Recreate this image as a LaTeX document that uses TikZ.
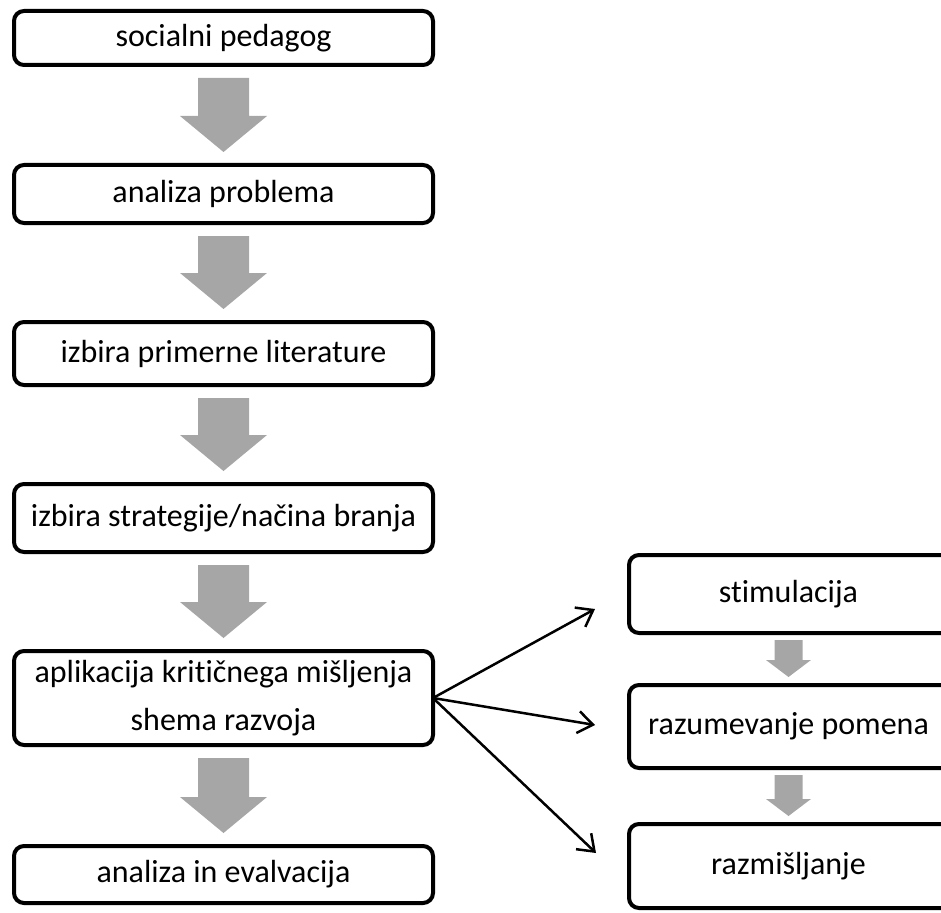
\documentclass[tikz,border=0pt]{standalone}
\usepackage{fontspec}
\setmainfont{Carlito}[Ligatures=NoCommon, RawFeature={-liga,-clig,-calt,-dlig}]
\usetikzlibrary{arrows.meta}
\usetikzlibrary{calc}
\definecolor{arrowgray}{HTML}{A6A6A6}

\begin{document}
\begin{tikzpicture}
	[x=1pt, y=-1pt,
	box/.style={draw, line width=4pt, rounded corners=10pt, inner sep=0pt, outer sep=0pt, font=\fontsize{32pt}{48pt}\selectfont},
	sidebox/.style={box, minimum width=339pt},
	link/.style={line width=2.5pt, -{Straight Barb[length=15pt,width=22pt,line width=2.5pt]}}];

	\useasboundingbox (0,0) rectangle (941,912);

	%Main column
	\node[box, minimum width=419pt, minimum height=54pt] (soc) at (223.5,38) {socialni pedagog};
	\node[box, minimum width=419pt, minimum height=58pt] (ana) at (223.5,194) {analiza problema};
	\node[box, minimum width=419pt, minimum height=63pt] (lit) at (223.5,353.5) {izbira primerne literature};
	\node[box, minimum width=419pt, minimum height=68pt] (str) at (223.5,518) {izbira strategije/načina branja};
	\node[box, minimum width=419pt, minimum height=94pt, align=center] (apl) at (223.5,698) {aplikacija kritičnega mišljenja\\shema razvoja};
	\node[box, minimum width=419pt, minimum height=57pt] (eva) at (223.5,874.5) {analiza in evalvacija};

	%Side column (runs off the page on the right)
	\node[sidebox, minimum height=78pt] (sti) at (798.5,594) {\hspace*{-20pt}stimulacija};
	\node[sidebox, minimum height=83pt] (raz) at (798.5,726.5) {\hspace*{-20pt}razumevanje pomena};
	\node[sidebox, minimum height=84pt] (mis) at (798.5,866) {\hspace*{-20pt}razmišljanje};

	%Big gray arrows
	\foreach \a/\b in {soc/ana, ana/lit, lit/str, str/apl, apl/eva}
		\fill[arrowgray] ($(\a.south)+(-25.5,13)$) -- ($(\a.south)+(25.5,13)$) -- ($(\b.north)+(25.5,-49)$) -- ($(\b.north)+(43.5,-49)$) -- ($(\b.north)+(0,-13)$) -- ($(\b.north)+(-43.5,-49)$) -- ($(\b.north)+(-25.5,-49)$) -- cycle;

	%Small gray arrows
	\foreach \a/\b in {sti/raz, raz/mis}
		\fill[arrowgray] ($(\a.south)+(-24,7)$) -- ($(\a.south)+(4,7)$) -- ($(\b.north)+(4,-25)$) -- ($(\b.north)+(12.5,-25)$) -- ($(\b.north)+(-10,-8)$) -- ($(\b.north)+(-32.5,-25)$) -- ($(\b.north)+(-24,-25)$) -- cycle;

	%Fan of arrows
	\coordinate (t1) at (595,609);
	\coordinate (t2) at (595,725);
	\coordinate (t3) at (596,853);
	\draw[link] (apl.east) -- (t1);
	\draw[link] (apl.east) -- (t2);
	\draw[link] (apl.east) -- (t3);
\end{tikzpicture}
\end{document}
